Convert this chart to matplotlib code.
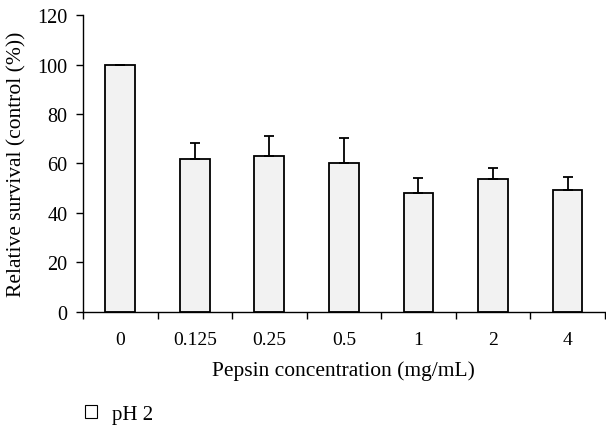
from matplotlib import pyplot as plt
from matplotlib.patches import Patch
import numpy as np

categories = ['0', '0.125', '0.25', '0.5', '1', '2', '4']
survival   = [100.0, 61.7, 63.0, 60.3, 48.1, 53.6, 49.2]
errors     = [0.0, 6.5, 8.2, 9.8, 5.8, 4.6, 5.4]

#--------------------------------------------------------------------------------------------------
def main():
    plt.rcParams['font.family'] = ['Liberation Serif', 'DejaVu Serif']
    fig = plt.figure(figsize=(6.06, 4.27), dpi=100)
    ax  = fig.add_axes([0.137, 0.268, 0.861, 0.694])

    x = np.arange(len(categories))
    ax.bar(x, survival, width=0.40, color='#f2f2f2', edgecolor='black', linewidth=1.3,
           yerr=[np.zeros(len(errors)), errors],
           error_kw=dict(ecolor='black', elinewidth=1.3, capsize=3.5, capthick=1.3))

    ax.set_xlim(-0.5, len(categories) - 0.5)
    ax.set_ylim(0, 120)
    ax.set_yticks(np.arange(0, 121, 20))
    ax.set_xticks(x)
    ax.set_xticklabels(categories)
    ax.set_xticks(np.arange(-0.5, len(categories), 1.0), minor=True)
    ax.tick_params(axis='x', which='major', length=0, pad=14, labelsize=14)
    ax.tick_params(axis='x', which='minor', length=5, width=1.0, direction='out')
    ax.tick_params(axis='y', length=5, width=1.0, direction='out', pad=6, labelsize=14.5)

    for side in ['top', 'right']:
        ax.spines[side].set_visible(False)
    for side in ['left', 'bottom']:
        ax.spines[side].set_linewidth(1.0)

    ax.set_xlabel('Pepsin concentration (mg/mL)', fontsize=15.5, labelpad=9)
    ax.set_ylabel('Relative survival (control (%))', fontsize=15.5, labelpad=8)

    handle = Patch(facecolor='white', edgecolor='black', linewidth=0.8)
    fig.legend([handle], ['pH 2'], loc='center left', bbox_to_anchor=(0.110, 0.027),
               frameon=False, fontsize=15, handlelength=0.55, handleheight=0.55,
               handletextpad=0.75)

    plt.savefig('out.png', dpi=100)
#--------------------------------------------------------------------------------------------------

if __name__=='__main__':
    main()
